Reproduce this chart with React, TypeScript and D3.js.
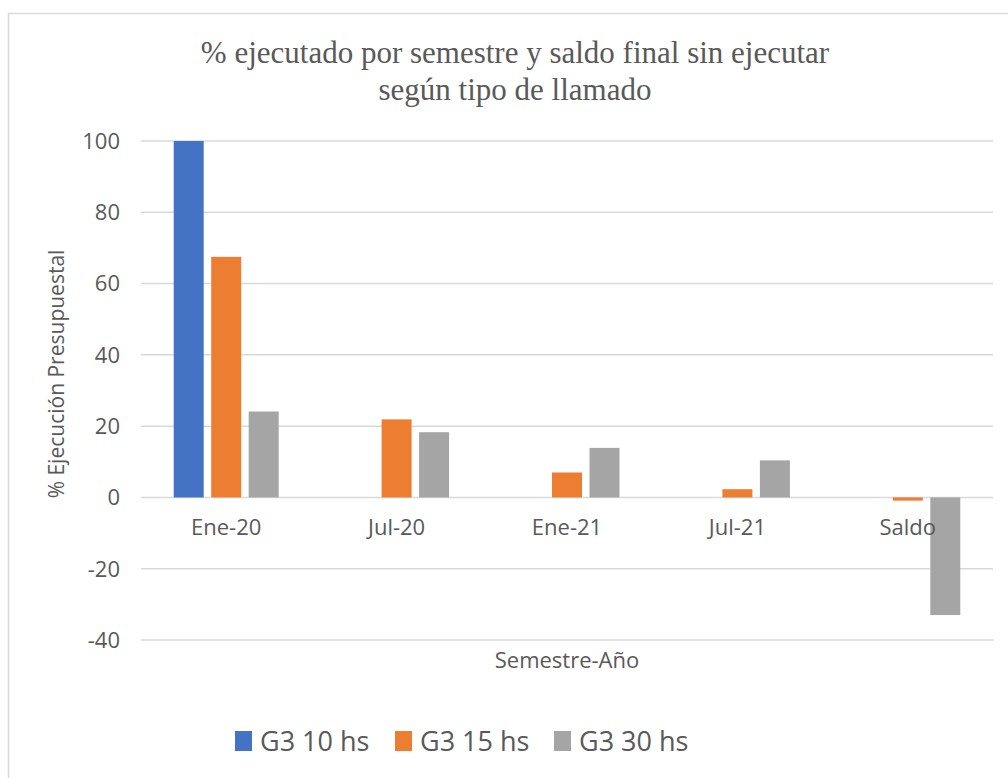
import React, { useEffect, useRef } from "react";
import * as d3 from "d3";

const categories = ["Ene-20", "Jul-20", "Ene-21", "Jul-21", "Saldo"];
const seriesNames = ["G3 10 hs", "G3 15 hs", "G3 30 hs"];
const g3_10 = [100, 0, 0, 0, 0];
const g3_15 = [67.5, 21.9, 7, 2.3, -0.9];
const g3_30 = [24.1, 18.3, 13.9, 10.4, -33];
const yTicks = [-40, -20, 0, 20, 40, 60, 80, 100];
const colors = ["#4472C4", "#ED7D31", "#A5A5A5"];

const App = () => {
  const svgRef = useRef(null);

  useEffect(() => {
    const width = 1008;
    const height = 778;
    const svg = d3.select(svgRef.current);
    svg.selectAll("*").remove();
    svg.attr("width", width).attr("height", height);

    const plot = { left: 141, right: 993, top: 141, bottom: 640 };
    const values = [g3_10, g3_15, g3_30];
    const sans = "'Open Sans', sans-serif";

    // chart frame (cropped on right and bottom)
    svg
      .append("rect")
      .attr("x", 8.5)
      .attr("y", 13.5)
      .attr("width", 1100)
      .attr("height", 900)
      .attr("fill", "#fff")
      .attr("stroke", "#D9D9D9")
      .attr("stroke-width", 1.5);

    const x = d3
      .scaleBand()
      .domain(categories)
      .range([plot.left, plot.right])
      .paddingInner(0.384)
      .paddingOuter(0.192);

    const xs = d3
      .scaleBand()
      .domain(seriesNames)
      .range([0, x.bandwidth()])
      .paddingInner(0.2)
      .paddingOuter(0);

    const y = d3.scaleLinear().domain([-40, 100]).range([plot.bottom, plot.top]);

    // gridlines
    svg
      .append("g")
      .selectAll("line")
      .data(yTicks)
      .enter()
      .append("line")
      .attr("x1", plot.left)
      .attr("x2", plot.right)
      .attr("y1", (d) => y(d))
      .attr("y2", (d) => y(d))
      .attr("stroke", "#D9D9D9")
      .attr("stroke-width", 1.5);

    // y tick labels
    svg
      .append("g")
      .selectAll("text")
      .data(yTicks)
      .enter()
      .append("text")
      .attr("x", 120)
      .attr("y", (d) => y(d))
      .attr("dy", "0.36em")
      .attr("text-anchor", "end")
      .attr("font-family", sans)
      .attr("font-size", 22)
      .attr("fill", "#595959")
      .text((d) => d);

    // bars
    seriesNames.forEach((name, si) => {
      svg
        .append("g")
        .selectAll("rect")
        .data(categories.map((c, i) => ({ c, v: values[si][i] })))
        .enter()
        .append("rect")
        .attr("x", (d) => x(d.c) + xs(name))
        .attr("width", xs.bandwidth())
        .attr("y", (d) => y(Math.max(0, d.v)))
        .attr("height", (d) => Math.abs(y(d.v) - y(0)))
        .attr("fill", colors[si]);
    });

    // x tick labels
    svg
      .append("g")
      .selectAll("text")
      .data(categories)
      .enter()
      .append("text")
      .attr("x", (d) => x(d) + x.bandwidth() / 2)
      .attr("y", 535)
      .attr("text-anchor", "middle")
      .attr("font-family", sans)
      .attr("font-size", 22)
      .attr("fill", "#595959")
      .text((d) => d);

    // axis titles
    svg
      .append("text")
      .attr("x", 567)
      .attr("y", 668)
      .attr("text-anchor", "middle")
      .attr("font-family", sans)
      .attr("font-size", 22)
      .attr("fill", "#595959")
      .text("Semestre-Año");

    svg
      .append("text")
      .attr("transform", "translate(64, 374) rotate(-90)")
      .attr("text-anchor", "middle")
      .attr("font-family", sans)
      .attr("font-size", 21)
      .attr("fill", "#595959")
      .text("% Ejecución Presupuestal");

    // title
    const title = svg
      .append("text")
      .attr("text-anchor", "middle")
      .attr("font-family", "'Liberation Serif', 'Times New Roman', serif")
      .attr("font-size", 31)
      .attr("fill", "#595959");
    title.append("tspan").attr("x", 515).attr("y", 63).text("% ejecutado por semestre y saldo final sin ejecutar");
    title.append("tspan").attr("x", 515).attr("y", 100).text("según tipo de llamado");

    // legend
    const legendX = [235, 395, 554];
    seriesNames.forEach((name, i) => {
      svg
        .append("rect")
        .attr("x", legendX[i])
        .attr("y", 731)
        .attr("width", 17)
        .attr("height", 20)
        .attr("fill", colors[i]);
      svg
        .append("text")
        .attr("x", legendX[i] + 25)
        .attr("y", 751)
        .attr("font-family", sans)
        .attr("font-size", 27)
        .attr("fill", "#595959")
        .text(name);
    });
  }, []);

  return (
    <div style={{ position: "absolute", left: 0, top: 0 }}>
      <svg ref={svgRef} style={{ display: "block" }}></svg>
    </div>
  );
};

export default App;
